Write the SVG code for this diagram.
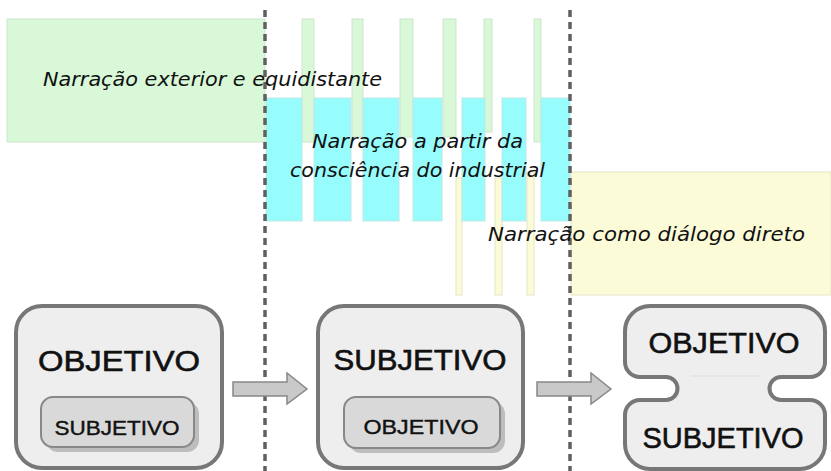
<svg xmlns="http://www.w3.org/2000/svg" width="831" height="471" viewBox="0 0 831 471">
<style>
.g{fill:#d8f8d8;stroke:#cde6cd;stroke-width:1}
.c{fill:#96fcfc;stroke:#bfe8e8;stroke-width:1}
.y{fill:#fbfbd8;stroke:#e6e6c8;stroke-width:1}
.lbl{font-family:"DejaVu Sans",sans-serif;font-style:italic;font-size:19px;fill:#111}
.dash{stroke:#606060;stroke-width:3.5;stroke-dasharray:7 5;fill:none}
.box{fill:#eeeeee;stroke:#777;stroke-width:4}
.inner{fill:#d9d9d9;stroke:#888;stroke-width:2}
.shadow{fill:#bdbdbd}
.big{font-family:"Liberation Sans",sans-serif;font-size:29px;fill:#111;stroke:#111;stroke-width:0.6;text-anchor:middle}
.small{font-family:"Liberation Sans",sans-serif;font-size:20px;fill:#111;stroke:#111;stroke-width:0.4;text-anchor:middle}
.arrow{fill:#c9c9c9;stroke:#888;stroke-width:1.5}
</style>
<g id="bands">
<rect class="g" x="7" y="19" width="258" height="123"/>
<rect class="g" x="302" y="19" width="12" height="123"/>
<rect class="g" x="352" y="19" width="11" height="118"/>
<rect class="g" x="400" y="19" width="13" height="118"/>
<rect class="g" x="443" y="19" width="13" height="118"/>
<rect class="g" x="484" y="19" width="8" height="113"/>
<rect class="g" x="534" y="19" width="7" height="123"/>
<rect class="y" x="571" y="172" width="260" height="123"/>
<rect class="y" x="456" y="178" width="6" height="117"/>
<rect class="y" x="495" y="178" width="7" height="117"/>
<rect class="y" x="527" y="172" width="7" height="123"/>
<rect class="c" x="266" y="98" width="36" height="123"/>
<rect class="c" x="314" y="98" width="37" height="123"/>
<rect class="c" x="363" y="98" width="36" height="123"/>
<rect class="c" x="413" y="98" width="29" height="123"/>
<rect class="c" x="462" y="98" width="23" height="123"/>
<rect class="c" x="502" y="98" width="24" height="123"/>
<rect class="c" x="541" y="98" width="29" height="123"/>
</g>
<g id="dividers">
<line class="dash" x1="265" y1="10" x2="265" y2="471"/>
<line class="dash" x1="570" y1="10" x2="570" y2="471"/>
</g>
<g id="labels">
<text class="lbl" x="43" y="86" textLength="339" lengthAdjust="spacingAndGlyphs">Narração exterior e equidistante</text>
<text class="lbl" x="312" y="148" textLength="211" lengthAdjust="spacingAndGlyphs">Narração a partir da</text>
<text class="lbl" x="290" y="177" textLength="255" lengthAdjust="spacingAndGlyphs">consciência do industrial</text>
<text class="lbl" x="488" y="241" textLength="317" lengthAdjust="spacingAndGlyphs">Narração como diálogo direto</text>
</g>
<g id="node1">
<rect class="box" x="16" y="306" width="206" height="162" rx="26"/>
<text class="big" x="119" y="371" textLength="162" lengthAdjust="spacingAndGlyphs">OBJETIVO</text>
<rect class="shadow" x="46" y="402" width="153" height="50" rx="12"/>
<rect class="inner" x="41" y="397" width="153" height="50" rx="12"/>
<text class="small" x="117" y="435" textLength="125" lengthAdjust="spacingAndGlyphs">SUBJETIVO</text>
</g>
<g id="node2">
<rect class="box" x="318" y="306" width="205" height="162" rx="26"/>
<text class="big" x="420" y="370" textLength="173" lengthAdjust="spacingAndGlyphs">SUBJETIVO</text>
<rect class="shadow" x="349" y="402" width="156" height="51" rx="12"/>
<rect class="inner" x="344" y="397" width="156" height="51" rx="12"/>
<text class="small" x="421" y="434" textLength="115" lengthAdjust="spacingAndGlyphs">OBJETIVO</text>
</g>
<g id="node3">
<path class="box" d="M650 306 H800 A25 25 0 0 1 825 331 V362 A15 15 0 0 1 810 377 H781 A11.5 11.5 0 0 0 781 400 H810 A15 15 0 0 1 825 415 V444 A25 25 0 0 1 800 469 H650 A25 25 0 0 1 625 444 V415 A15 15 0 0 1 640 400 H666 A11.5 11.5 0 0 0 666 377 H640 A15 15 0 0 1 625 362 V331 A25 25 0 0 1 650 306 Z"/>
<line x1="690" y1="376" x2="760" y2="376" stroke="#dcdcdc" stroke-width="1"/>
<text class="big" x="724" y="353" textLength="151" lengthAdjust="spacingAndGlyphs">OBJETIVO</text>
<text class="big" x="723" y="448" textLength="161" lengthAdjust="spacingAndGlyphs">SUBJETIVO</text>
</g>
<g id="connectors">
<path class="arrow" d="M233 382 H287 V373 L307 389 L287 404 V396 H233 Z"/>
<path class="arrow" d="M537 382 H591 V373 L611 389 L591 404 V396 H537 Z"/>
</g>
</svg>
